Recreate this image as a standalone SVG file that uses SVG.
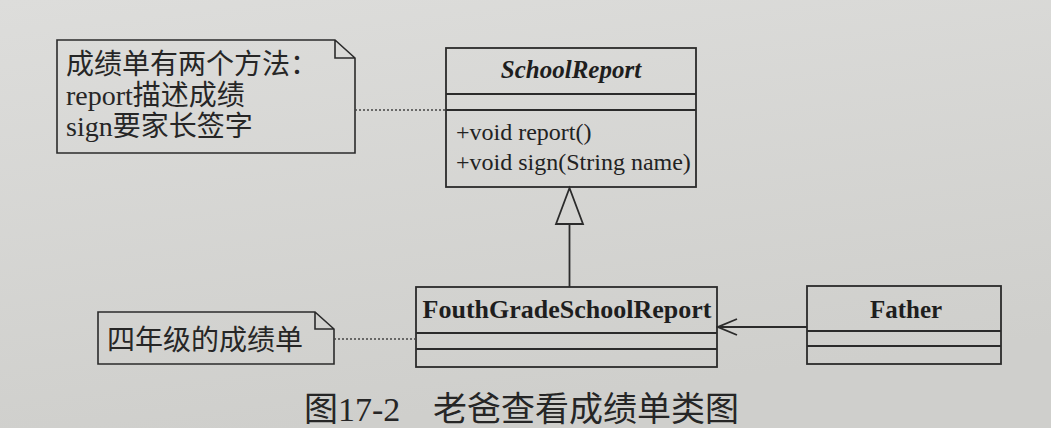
<svg xmlns="http://www.w3.org/2000/svg" width="1051" height="428" viewBox="0 0 1051 428">
<defs>
<linearGradient id="bg" x1="0" y1="0" x2="0.3" y2="1">
<stop offset="0" stop-color="#dddddb"/>
<stop offset="1" stop-color="#cfcfcc"/>
</linearGradient>
<marker id="open" markerWidth="22" markerHeight="20" refX="20" refY="9" orient="auto" markerUnits="userSpaceOnUse">
<path d="M1,1 L20,9 L1,17" fill="none" stroke="#2b2b2b" stroke-width="1.8"/>
</marker>
</defs>
<style>
.box{fill:none;stroke:#2b2b2b;stroke-width:1.8}
.note{fill:none;stroke:#2b2b2b;stroke-width:1.6}
.dot{stroke:#444;stroke-width:1.4;stroke-dasharray:2 2;fill:none}
.line{stroke:#2b2b2b;stroke-width:1.8;fill:none}
.cjk{font-family:"Liberation Serif","Noto Sans CJK SC",serif;font-size:28px;fill:#262626}
.cls{font-family:"Liberation Serif",serif;font-weight:bold;fill:#1e1e1e;text-anchor:middle}
.mth{font-family:"Liberation Serif",serif;font-size:24px;fill:#222}
.cap{font-family:"Liberation Serif","Noto Sans CJK SC",serif;font-size:34px;fill:#262626}
</style>
<rect x="0" y="0" width="1051" height="428" fill="url(#bg)"/>

<g id="note1">
<path class="note" d="M57,40 L335,40 L355,58 L355,153 L57,153 Z M335,40 L335,58 L355,58"/>
<text class="cjk" x="66" y="74">成绩单有两个方法：</text>
<text class="cjk" x="66" y="105">report描述成绩</text>
<text class="cjk" x="66" y="136">sign要家长签字</text>
</g>

<g id="SchoolReport">
<rect class="box" x="446" y="48" width="250" height="139"/>
<line class="line" x1="446" y1="94" x2="696" y2="94"/>
<line class="line" x1="446" y1="110" x2="696" y2="110"/>
<text class="cls" x="571" y="78" font-size="25" font-style="italic">SchoolReport</text>
<text class="mth" x="456" y="140">+void report()</text>
<text class="mth" x="456" y="170">+void sign(String name)</text>
</g>

<g id="note2">
<path class="note" d="M98,312 L315,312 L334,329 L334,364 L98,364 Z M315,312 L315,329 L334,329"/>
<text class="cjk" x="107" y="350">四年级的成绩单</text>
</g>

<g id="FouthGradeSchoolReport">
<rect class="box" x="416" y="287" width="301" height="80"/>
<line class="line" x1="416" y1="333" x2="717" y2="333"/>
<line class="line" x1="416" y1="349" x2="717" y2="349"/>
<text class="cls" x="567" y="318" font-size="26">FouthGradeSchoolReport</text>
</g>

<g id="Father">
<rect class="box" x="807" y="286" width="194" height="78"/>
<line class="line" x1="807" y1="331" x2="1001" y2="331"/>
<line class="line" x1="807" y1="346" x2="1001" y2="346"/>
<text class="cls" x="906" y="318" font-size="25">Father</text>
</g>

<g id="connectors">
<line class="dot" x1="355" y1="110" x2="446" y2="110"/>
<line class="dot" x1="334" y1="339" x2="416" y2="339"/>
<line class="line" x1="569.5" y1="224" x2="569.5" y2="287"/>
<path class="line" d="M569.5,188 L556,224 L583,224 Z" fill="none"/>
<line class="line" x1="807" y1="327" x2="718" y2="327" marker-end="url(#open)"/>
</g>

<g id="caption">
<text class="cap" x="304" y="421">图17-2</text>
<text class="cap" x="433" y="421">老爸查看成绩单类图</text>
</g>
</svg>
